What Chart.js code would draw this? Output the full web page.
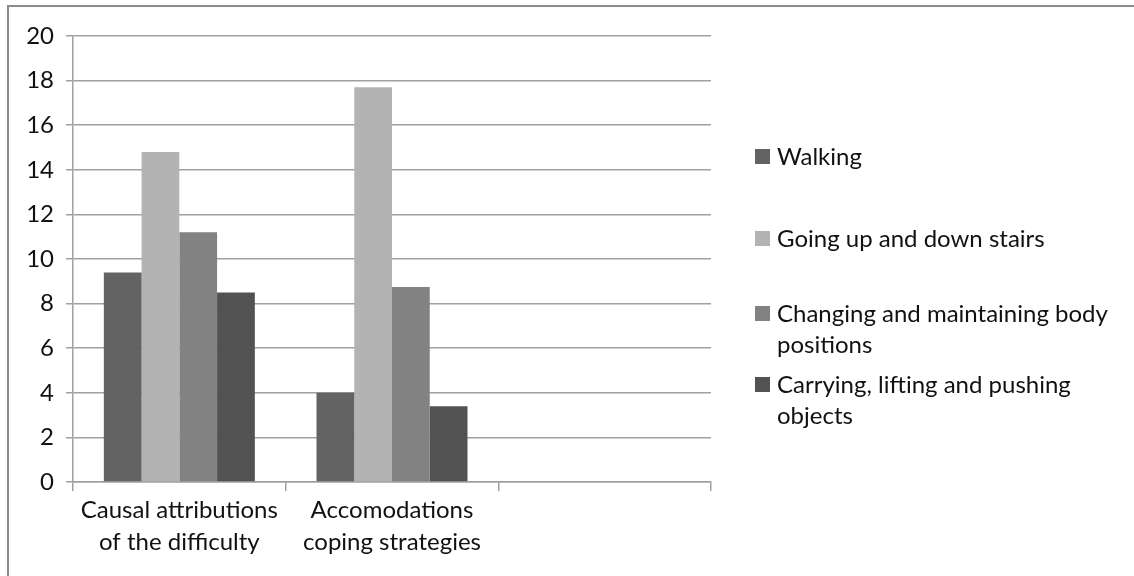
<!DOCTYPE html>
<html>
<head>
<meta charset="utf-8">
<script src="https://cdn.jsdelivr.net/npm/chart.js@4"></script>
<style>
  body { margin: 0; background: #fff; }
  #wrap { position: relative; width: 1134px; height: 576px; }
</style>
</head>
<body>
<div id="wrap"><canvas id="chart" width="1134" height="576"></canvas></div>
<script>
// categories
var categories = [["Causal attributions", "of the difficulty"], ["Accomodations", "coping strategies"], ""];
// series
var seriesNames = ["Walking", "Going up and down stairs", "Changing and maintaining body positions", "Carrying, lifting and pushing objects"];
var walking = [9.4, 4.0, null];
var stairs = [14.8, 17.7, null];
var bodyPositions = [11.2, 8.75, null];
var carrying = [8.5, 3.4, null];
var barColors = ["#636363", "#b3b3b3", "#828282", "#525252"];
// legend lines (wrapped like the original)
var legendLines = [["Walking"], ["Going up and down stairs"], ["Changing and maintaining body", "positions"], ["Carrying, lifting and pushing", "objects"]];
var legendTops = [157, 239, 314, 385];

var FONT = "Lato";

// frame + legend on the right
var sideLegend = {
  id: "sideLegend",
  beforeDraw: function(chart) {
    var ctx = chart.ctx;
    ctx.save();
    ctx.fillStyle = "#fff";
    ctx.fillRect(0, 0, chart.width, chart.height);
    ctx.strokeStyle = "#8c8c8c";
    ctx.lineWidth = 2;
    ctx.beginPath();
    ctx.moveTo(8, chart.height);
    ctx.lineTo(8, 6);
    ctx.lineTo(chart.width, 6);
    ctx.stroke();
    ctx.restore();
  },
  afterDraw: function(chart) {
    var ctx = chart.ctx;
    ctx.save();
    ctx.font = "24px " + FONT;
    ctx.textBaseline = "middle";
    chart.data.datasets.forEach(function(ds, i) {
      var y = legendTops[i];
      ctx.fillStyle = ds.backgroundColor;
      ctx.fillRect(755, y - 8, 15, 15);
      ctx.fillStyle = "#111";
      legendLines[i].forEach(function(line, j) {
        ctx.fillText(line, 777, y + j * 31);
      });
    });
    ctx.restore();
  }
};

new Chart(document.getElementById("chart"), {
  type: "bar",
  data: {
    labels: categories,
    datasets: [
      { label: seriesNames[0], data: walking, backgroundColor: barColors[0] },
      { label: seriesNames[1], data: stairs, backgroundColor: barColors[1] },
      { label: seriesNames[2], data: bodyPositions, backgroundColor: barColors[2] },
      { label: seriesNames[3], data: carrying, backgroundColor: barColors[3] }
    ]
  },
  options: {
    responsive: false,
    animation: false,
    layout: { padding: { left: 0, top: 36, right: 423, bottom: 0 } },
    datasets: { bar: { barPercentage: 1, categoryPercentage: 0.71 } },
    plugins: {
      legend: { display: false },
      tooltip: { enabled: false }
    },
    scales: {
      x: {
        grid: { offset: true, drawOnChartArea: false, color: "#a0a0a0", tickLength: 9, lineWidth: 1.5 },
        border: { color: "#a0a0a0", width: 1.5 },
        ticks: { color: "#111", font: { family: FONT, size: 24, lineHeight: 1.3 }, padding: 4, maxRotation: 0, autoSkip: false },
        afterFit: function(scale) { scale.height = 94; }
      },
      y: {
        min: 0,
        max: 20,
        grid: { color: "#a0a0a0", tickLength: 7, lineWidth: 1.5 },
        border: { color: "#a0a0a0", width: 1.5 },
        ticks: { stepSize: 2, color: "#111", font: { family: FONT, size: 24 }, padding: 12 },
        afterFit: function(scale) { scale.width = 73; }
      }
    }
  },
  plugins: [sideLegend]
});
</script>
</body>
</html>
